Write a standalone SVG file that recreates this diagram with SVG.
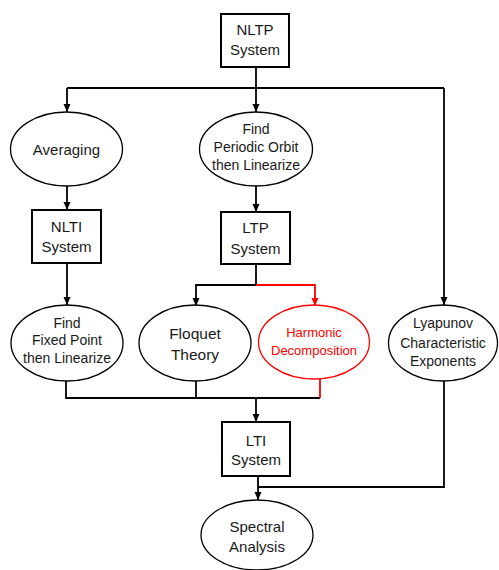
<svg xmlns="http://www.w3.org/2000/svg" width="499" height="570" viewBox="0 0 499 570">
<defs>
<marker id="ah" markerUnits="userSpaceOnUse" markerWidth="8" markerHeight="8" refX="8" refY="4" orient="auto"><path d="M0,0.5 L8,4 L0,7.5 z" fill="#000"/></marker>
<marker id="ahr" markerUnits="userSpaceOnUse" markerWidth="8" markerHeight="8" refX="8" refY="4" orient="auto"><path d="M0,0.5 L8,4 L0,7.5 z" fill="#ff0000"/></marker>
<style>
.box{fill:#fff;stroke:#000;stroke-width:2}
.ell{fill:#fff;stroke:#000;stroke-width:1.3}
.red{stroke:#ff0000}
text{font-family:"Liberation Sans",Arial,sans-serif;text-anchor:middle;fill:#1a1a1a}
.t15{font-size:15px}
.t14{font-size:14px}
.t16{font-size:15.5px}
.rt{fill:#ff0000;font-size:13px}
.c{fill:none;stroke:#000;stroke-width:1.8}
.cr{fill:none;stroke:#ff0000;stroke-width:1.8}
</style>
</defs>
<rect width="499" height="570" fill="#fff"/>
<g id="connectors">
<path class="c" d="M256,67 V112" marker-end="url(#ah)"/>
<path class="c" d="M67,88 H444"/>
<path class="c" d="M67,88 V112" marker-end="url(#ah)"/>
<path class="c" d="M444,88 V305" marker-end="url(#ah)"/>
<path class="c" d="M67,185 V210" marker-end="url(#ah)"/>
<path class="c" d="M256,185 V212" marker-end="url(#ah)"/>
<path class="c" d="M256,264 V285 H196 V306" marker-end="url(#ah)"/>
<path class="cr" d="M256,285 H315 V306" marker-end="url(#ahr)"/>
<path class="c" d="M67,263 V305" marker-end="url(#ah)"/>
<path class="c" d="M66,381 V398 H320"/>
<path class="c" d="M196,381 V398"/>
<path class="cr" d="M320,379 V398"/>
<path class="c" d="M256,398 V422" marker-end="url(#ah)"/>
<path class="c" d="M258,476 V500" marker-end="url(#ah)"/>
<path class="c" d="M258,487 H444 V381"/>
</g>
<g id="nltp"><rect class="box" x="221" y="14" width="68" height="53"/><text class="t15" x="255" y="35">NLTP</text><text class="t15" x="255" y="55">System</text></g>
<g id="averaging"><ellipse class="ell" cx="66.5" cy="149" rx="56" ry="37"/><text class="t15" x="66.5" y="155">Averaging</text></g>
<g id="findperiodic"><ellipse class="ell" cx="256" cy="149" rx="56.5" ry="37"/><text class="t14" x="256" y="134">Find</text><text class="t14" x="256" y="152">Periodic Orbit</text><text class="t14" x="256" y="170">then Linearize</text></g>
<g id="nlti"><rect class="box" x="32" y="210" width="69" height="53"/><text class="t15" x="66.5" y="232">NLTI</text><text class="t15" x="66.5" y="252">System</text></g>
<g id="ltp"><rect class="box" x="221" y="212" width="69" height="52"/><text class="t15" x="255.5" y="233">LTP</text><text class="t15" x="255.5" y="254">System</text></g>
<g id="findfixed"><ellipse class="ell" cx="67" cy="343" rx="56" ry="38"/><text class="t14" x="67" y="328">Find</text><text class="t14" x="67" y="345">Fixed Point</text><text class="t14" x="67" y="363">then Linearize</text></g>
<g id="floquet"><ellipse class="ell" cx="195" cy="343" rx="56" ry="38"/><text class="t16" x="195" y="338.5">Floquet</text><text class="t16" x="195" y="359.5">Theory</text></g>
<g id="harmonic"><ellipse class="ell red" cx="314" cy="342" rx="55.5" ry="37"/><text class="rt" x="314" y="336.5">Harmonic</text><text class="rt" x="314" y="354.5">Decomposition</text></g>
<g id="lyapunov"><ellipse class="ell" cx="443" cy="343" rx="54.5" ry="38"/><text class="t14" x="443" y="328">Lyapunov</text><text class="t14" x="443" y="348">Characteristic</text><text class="t14" x="443" y="366">Exponents</text></g>
<g id="lti"><rect class="box" x="222" y="422" width="68" height="54"/><text class="t15" x="256" y="446">LTI</text><text class="t15" x="256" y="465">System</text></g>
<g id="spectral"><ellipse class="ell" cx="257" cy="535" rx="56" ry="35"/><text class="t15" x="257" y="532">Spectral</text><text class="t15" x="257" y="552">Analysis</text></g>
</svg>
